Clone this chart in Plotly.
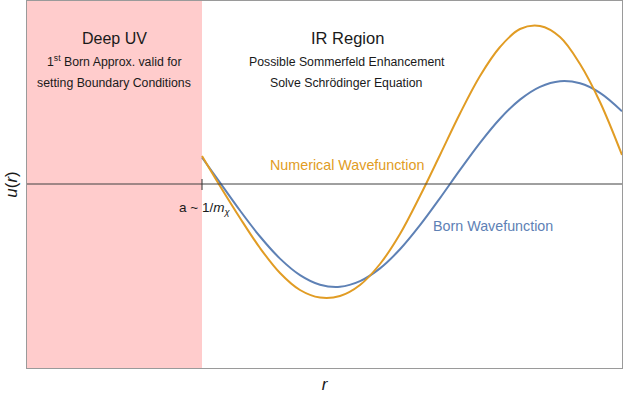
import plotly.graph_objects as go

r_vals = [17.5, 19.3, 21.3, 23.3, 25.3, 27.3, 29.3, 31.3, 33.3, 35.3, 37.3, 39.3,
          41.3, 43.3, 45.3, 47.3, 49.3, 51.3, 53.3, 55.3, 57.3, 59.5]
u_numerical = [0.28, -0.02, -0.34, -0.64, -0.89, -1.06, -1.135, -1.12, -1.01, -0.80, -0.50, -0.12,
               0.29, 0.705, 1.08, 1.37, 1.55, 1.58, 1.47, 1.20, 0.82, 0.29]
u_born = [0.265, 0.014, -0.265, -0.525, -0.746, -0.911, -1.007, -1.028, -0.972, -0.844, -0.653, -0.412,
          -0.141, 0.141, 0.412, 0.653, 0.844, 0.972, 1.028, 1.007, 0.911, 0.727]
a_cut = 17.5
r_min, r_max = 0.0, 59.5
u_min, u_max = -1.84, 1.83

ORANGE = "#E19C24"
BLUE = "#5E81B5"
TXT = "#1a1a1a"
FONT = "Liberation Sans, Arial, sans-serif"

fig = go.Figure()
fig.add_trace(go.Scatter(x=r_vals, y=u_born, mode="lines",
                         line=dict(color=BLUE, width=2, shape="spline"), showlegend=False))
fig.add_trace(go.Scatter(x=r_vals, y=u_numerical, mode="lines",
                         line=dict(color=ORANGE, width=2, shape="spline"), showlegend=False))

# Deep UV shaded region
fig.add_shape(type="rect", xref="x", yref="paper", x0=r_min, x1=a_cut, y0=0, y1=1,
              fillcolor="#FFCCCC", line=dict(width=0), layer="below")
# zero axis line
fig.add_shape(type="line", xref="paper", yref="y", x0=0, x1=1, y0=0, y1=0,
              line=dict(color="#404040", width=1))
# tick at a
fig.add_shape(type="line", xref="x", yref="y", x0=a_cut, x1=a_cut, y0=0.05, y1=-0.06,
              line=dict(color="#333333", width=1))

def ann(x, y, text, size, color=TXT):
    fig.add_annotation(x=x, y=y, xref="x", yref="y", text=text, showarrow=False,
                       font=dict(family=FONT, size=size, color=color),
                       xanchor="center", yanchor="middle")

ann(8.7, 1.46, "Deep UV", 16)
ann(8.7, 1.23, "1<sup>st</sup> Born Approx. valid for", 12.3)
ann(8.7, 1.01, "setting Boundary Conditions", 12.3)
ann(32.0, 1.46, "IR Region", 16.5)
ann(32.0, 1.22, "Possible Sommerfeld Enhancement", 12.3)
ann(31.9, 1.01, "Solve Schrödinger Equation", 12.3)
ann(32.0, 0.19, "Numerical Wavefunction", 14.3, ORANGE)
ann(46.6, -0.42, "Born Wavefunction", 14.3, BLUE)
ann(17.7, -0.24, "a ~ 1/<i>m</i><sub><i>χ</i></sub>", 13.5)

fig.update_layout(
    width=623, height=396,
    margin=dict(l=27, r=1, t=1, b=28),
    paper_bgcolor="white", plot_bgcolor="white",
    font=dict(family=FONT, color=TXT),
    xaxis=dict(range=[r_min, r_max], showgrid=False, zeroline=False, showticklabels=False,
               ticks="", showline=True, mirror=True, linecolor="#9a9a9a", linewidth=1,
               automargin=False,
               title=dict(text="<i>r</i>", font=dict(size=17, family=FONT), standoff=10)),
    yaxis=dict(range=[u_min, u_max], showgrid=False, zeroline=False, showticklabels=False,
               ticks="", showline=True, mirror=True, linecolor="#9a9a9a", linewidth=1,
               automargin=False,
               title=dict(text="<i>u</i>(<i>r</i>)", font=dict(size=17, family=FONT), standoff=4)),
)

fig.write_html("out.html", config={"displayModeBar": False},
               post_script="document.body.style.margin='0';")
